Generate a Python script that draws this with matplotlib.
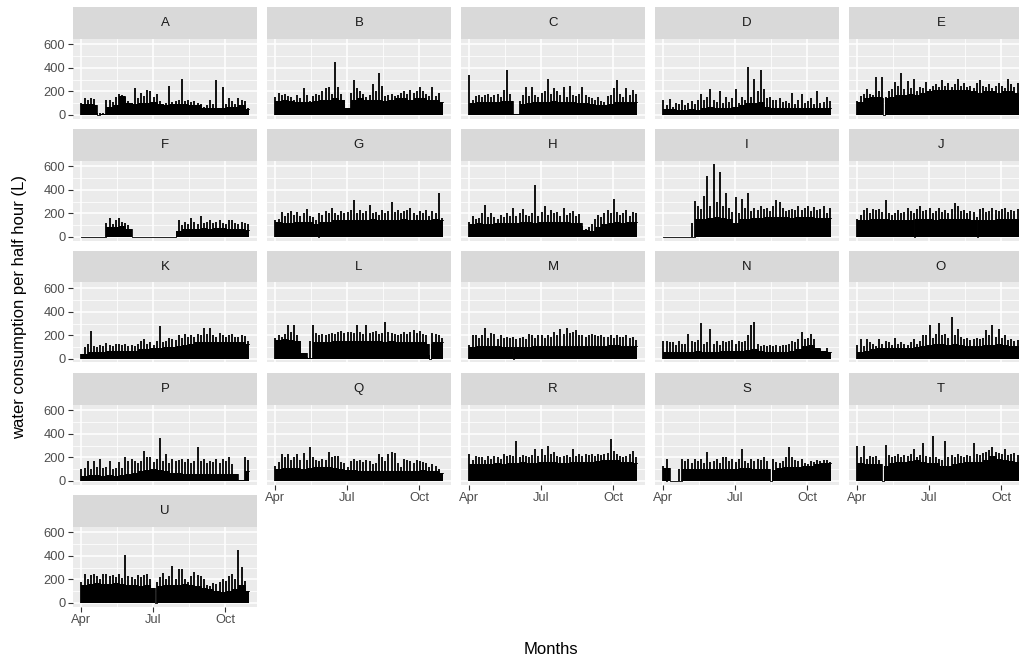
import numpy as np
import matplotlib.pyplot as plt

plt.rcParams['font.family'] = ['Liberation Sans', 'DejaVu Sans']

# water use per half hour (L)
# *_base: typical level, one value per 8 days from 1 Apr
# *_peak: highest reading, one value per 4 days from 1 Apr
# *_dips: days (from 1 Apr) where the use drops to zero
start = np.datetime64('2017-04-01')
end = np.datetime64('2017-10-31')

a_base = [90, 90, 80, 5, 70, 80, 160, 100, 90, 100, 100, 110, 90, 80, 90, 90, 90, 80, 80, 60, 60, 60, 60, 70, 70, 80, 50]
a_peak = [100, 145, 130, 140, 135, 20, 15, 20, 130, 130, 110, 150, 175, 170, 150, 120, 100, 230, 140, 190,
          160, 210, 200, 150, 180, 120, 90, 100, 250, 110, 120, 130, 310, 120, 130, 110, 115, 100, 90, 70,
          80, 130, 90, 300, 60, 240, 90, 140, 120, 90, 140, 130, 120, 60]
a_dips = [20, 22]

b_base = [120, 130, 120, 110, 110, 110, 120, 130, 130, 140, 130, 60, 130, 140, 130, 130, 130, 120, 130, 140, 140, 130, 140, 140, 130, 130, 110]
b_peak = [150, 190, 170, 175, 160, 150, 130, 170, 140, 230, 170, 120, 160, 180, 170, 200, 230, 240, 180, 450,
          240, 180, 130, 60, 190, 300, 230, 200, 180, 150, 170, 260, 200, 360, 250, 160, 170, 180, 160, 170,
          190, 200, 180, 210, 190, 200, 240, 200, 180, 160, 240, 160, 190, 90]
b_dips = []

c_base = [100, 110, 110, 110, 110, 120, 120, 5, 90, 100, 110, 110, 110, 120, 110, 110, 110, 100, 100, 90, 80, 80, 90, 110, 110, 110, 110]
c_peak = [340, 130, 160, 170, 150, 170, 180, 150, 170, 180, 150, 210, 380, 180, 10, 10, 120, 170, 235, 160,
          240, 170, 150, 190, 200, 310, 180, 230, 200, 170, 240, 150, 250, 170, 160, 180, 235, 170, 150, 140,
          130, 150, 120, 110, 160, 170, 230, 300, 180, 150, 230, 170, 210, 180]
c_dips = []

d_base = [50, 50, 45, 45, 50, 45, 55, 65, 60, 60, 60, 65, 80, 100, 100, 110, 70, 60, 60, 55, 55, 55, 60, 60, 55, 55, 60]
d_peak = [130, 80, 135, 70, 100, 90, 130, 80, 100, 120, 90, 130, 180, 130, 150, 220, 130, 110, 205, 100,
          150, 110, 140, 220, 100, 150, 130, 408, 150, 304, 200, 383, 220, 140, 150, 130, 130, 140, 110, 120,
          100, 190, 90, 130, 177, 100, 120, 140, 90, 205, 100, 110, 150, 120]
d_dips = []

e_base = [110, 140, 150, 150, 140, 150, 170, 170, 180, 170, 190, 200, 210, 210, 215, 210, 210, 210, 200, 190, 200, 200, 190, 200, 200, 190, 190]
e_peak = [120, 160, 180, 220, 180, 170, 327, 200, 327, 150, 200, 220, 277, 250, 353, 220, 285, 230, 307, 200,
          240, 230, 277, 220, 250, 260, 240, 300, 250, 270, 240, 260, 307, 250, 270, 240, 250, 230, 270, 297,
          250, 240, 260, 230, 250, 270, 250, 230, 307, 260, 240, 270, 220, 200]
e_dips = [33]

f_base = [0, 0, 0, 0, 80, 80, 90, 70, 0, 0, 0, 0, 0, 0, 0, 50, 70, 70, 70, 75, 70, 75, 75, 70, 70, 70, 60]
f_peak = [0, 0, 0, 0, 0, 0, 0, 0, 120, 165, 110, 140, 165, 130, 120, 100, 0, 0, 0, 0,
          0, 0, 0, 0, 0, 0, 0, 0, 0, 0, 0, 140, 100, 130, 110, 160, 130, 110, 175, 120,
          130, 140, 120, 130, 145, 120, 110, 140, 145, 120, 110, 130, 120, 110]
f_dips = []

g_base = [130, 120, 120, 130, 130, 125, 110, 130, 130, 140, 140, 140, 140, 145, 140, 150, 140, 140, 145, 145, 150, 140, 145, 140, 145, 150, 140]
g_peak = [145, 150, 210, 180, 200, 220, 190, 210, 180, 200, 235, 180, 170, 140, 200, 190, 220, 200, 250, 200,
          190, 220, 200, 210, 230, 315, 200, 230, 200, 220, 275, 200, 210, 190, 230, 200, 220, 300, 210, 230,
          200, 220, 230, 250, 200, 190, 220, 200, 230, 180, 222, 200, 370, 160]
g_dips = [54]

h_base = [110, 120, 110, 110, 120, 120, 120, 120, 130, 130, 120, 130, 130, 130, 130, 130, 120, 120, 60, 50, 80, 110, 120, 130, 120, 130, 130]
h_peak = [130, 175, 150, 160, 200, 270, 170, 200, 170, 150, 190, 170, 200, 180, 250, 180, 200, 235, 190, 180,
          200, 443, 180, 210, 265, 190, 230, 200, 210, 180, 250, 190, 200, 220, 180, 195, 90, 70, 80, 110,
          150, 190, 170, 200, 230, 200, 320, 210, 190, 200, 230, 180, 210, 200]
h_dips = []

i_base = [0, 0, 0, 0, 0, 150, 150, 160, 170, 160, 150, 120, 150, 150, 160, 160, 170, 170, 170, 170, 160, 170, 170, 170, 165, 165, 160]
i_peak = [0, 0, 0, 0, 0, 0, 0, 0, 0, 120, 305, 260, 240, 350, 517, 260, 623, 300, 550, 260,
          374, 250, 210, 337, 200, 323, 250, 371, 220, 250, 230, 260, 240, 250, 220, 260, 314, 300, 250, 220,
          230, 240, 230, 265, 230, 250, 265, 220, 255, 230, 240, 265, 200, 250]
i_dips = []

j_base = [140, 140, 150, 150, 150, 140, 140, 140, 140, 150, 150, 150, 140, 150, 150, 150, 150, 150, 140, 140, 140, 140, 150, 150, 150, 150, 150]
j_peak = [150, 190, 230, 250, 200, 240, 230, 240, 210, 314, 200, 190, 200, 230, 200, 210, 250, 220, 200, 240,
          260, 220, 230, 250, 200, 220, 250, 210, 230, 200, 240, 285, 260, 220, 230, 200, 220, 210, 170, 240,
          250, 210, 220, 250, 230, 220, 240, 250, 210, 230, 220, 240, 220, 200]
j_dips = [72, 152]

k_base = [40, 60, 55, 60, 65, 70, 70, 65, 70, 80, 85, 90, 95, 100, 105, 110, 120, 125, 140, 145, 140, 140, 140, 140, 140, 140, 130]
k_peak = [40, 100, 130, 234, 110, 100, 120, 110, 135, 120, 110, 125, 130, 120, 130, 110, 120, 110, 130, 150,
          166, 130, 140, 120, 150, 276, 140, 150, 180, 170, 160, 205, 180, 214, 190, 200, 190, 210, 200, 262,
          210, 262, 200, 190, 220, 200, 190, 200, 210, 190, 190, 200, 191, 150]
k_dips = []

l_base = [160, 170, 160, 150, 50, 10, 140, 140, 140, 150, 150, 150, 150, 150, 150, 150, 150, 145, 150, 145, 145, 140, 140, 140, 130, 140, 140]
l_peak = [180, 200, 190, 210, 285, 230, 285, 200, 150, 20, 20, 150, 290, 220, 200, 210, 200, 210, 220, 210,
          230, 240, 220, 228, 230, 220, 290, 230, 210, 290, 220, 230, 240, 210, 220, 318, 230, 220, 210, 200,
          210, 228, 210, 230, 248, 220, 240, 210, 200, 30, 220, 210, 200, 180]
l_dips = [196]

m_base = [100, 110, 110, 110, 110, 100, 100, 100, 100, 100, 110, 110, 110, 110, 110, 110, 110, 110, 110, 110, 110, 110, 115, 115, 110, 110, 110]
m_peak = [120, 200, 206, 180, 206, 262, 180, 220, 214, 170, 206, 180, 190, 180, 190, 170, 180, 190, 170, 214,
          200, 180, 200, 200, 180, 200, 190, 228, 200, 256, 210, 262, 220, 228, 242, 200, 206, 190, 200, 210,
          200, 195, 200, 190, 190, 200, 180, 200, 190, 190, 200, 180, 190, 160]
m_dips = [55]

n_base = [55, 60, 60, 60, 60, 65, 60, 60, 60, 65, 65, 70, 70, 75, 80, 70, 60, 60, 60, 60, 65, 80, 110, 120, 90, 65, 60]
n_peak = [150, 150, 140, 145, 120, 150, 130, 130, 214, 150, 140, 160, 307, 130, 140, 256, 130, 150, 120, 150,
          140, 150, 160, 130, 150, 140, 150, 200, 285, 318, 130, 110, 120, 110, 115, 110, 120, 110, 120, 115,
          130, 150, 140, 170, 228, 170, 180, 214, 170, 90, 80, 70, 90, 60]
n_dips = []

o_base = [60, 70, 80, 90, 90, 90, 90, 95, 95, 100, 110, 120, 130, 130, 120, 130, 120, 110, 110, 110, 115, 120, 130, 120, 110, 110, 110]
o_peak = [120, 166, 110, 166, 140, 130, 110, 170, 130, 150, 140, 120, 175, 130, 140, 125, 120, 140, 170, 130,
          150, 205, 200, 290, 180, 210, 307, 200, 215, 180, 355, 200, 256, 190, 170, 180, 160, 170, 180, 170,
          175, 248, 200, 285, 190, 256, 180, 200, 160, 170, 150, 160, 150, 140]
o_dips = []

p_base = [40, 50, 50, 45, 50, 45, 50, 60, 70, 80, 90, 100, 90, 80, 70, 70, 60, 60, 60, 60, 55, 60, 55, 60, 60, 5, 80]
p_peak = [100, 110, 172, 100, 172, 120, 186, 110, 120, 172, 100, 110, 160, 110, 200, 172, 186, 170, 150, 170,
          256, 200, 200, 160, 190, 363, 170, 228, 150, 186, 170, 180, 186, 160, 186, 150, 170, 290, 170, 186,
          150, 170, 160, 186, 150, 186, 170, 200, 140, 60, 5, 5, 205, 180]
p_dips = []

q_base = [100, 110, 110, 110, 100, 110, 120, 120, 120, 110, 100, 90, 90, 85, 80, 80, 80, 80, 85, 85, 80, 80, 85, 90, 85, 80, 70]
q_peak = [130, 158, 228, 200, 228, 180, 200, 228, 180, 234, 180, 290, 200, 180, 170, 190, 180, 242, 200, 210,
          214, 160, 150, 120, 170, 190, 170, 180, 160, 180, 170, 140, 150, 228, 200, 170, 228, 242, 240, 150,
          120, 190, 180, 170, 150, 180, 170, 160, 150, 120, 140, 130, 100, 60]
q_dips = []

r_base = [140, 140, 140, 145, 150, 145, 150, 150, 160, 155, 155, 160, 160, 160, 150, 155, 160, 160, 165, 165, 170, 175, 180, 175, 165, 160, 150]
r_peak = [228, 180, 214, 200, 205, 180, 210, 190, 214, 200, 190, 228, 210, 220, 214, 341, 200, 220, 210, 200,
          220, 270, 210, 270, 220, 298, 230, 242, 210, 200, 214, 220, 200, 270, 210, 228, 210, 228, 220, 230,
          210, 228, 220, 230, 240, 355, 256, 228, 214, 200, 210, 230, 256, 200]
r_dips = []

s_base = [110, 0, 0, 100, 100, 100, 100, 100, 100, 105, 105, 100, 110, 110, 105, 105, 100, 90, 110, 115, 120, 120, 125, 130, 140, 150, 150]
s_peak = [130, 186, 0, 0, 0, 100, 186, 170, 186, 150, 186, 170, 186, 150, 242, 160, 170, 186, 150, 200,
          200, 170, 186, 160, 186, 270, 170, 150, 186, 170, 186, 180, 200, 170, 0, 186, 160, 150, 170, 200,
          290, 200, 180, 170, 186, 150, 140, 170, 160, 180, 170, 180, 180, 160]
s_dips = [3, 136]

t_base = [150, 140, 140, 140, 130, 150, 160, 165, 170, 175, 160, 150, 150, 130, 130, 140, 150, 160, 160, 165, 175, 210, 190, 180, 170, 165, 160]
t_peak = [299, 200, 299, 190, 210, 200, 210, 180, 0, 304, 220, 200, 210, 230, 200, 220, 210, 230, 270, 200,
          220, 327, 210, 200, 383, 200, 190, 180, 341, 200, 220, 200, 230, 210, 200, 220, 210, 327, 230, 220,
          240, 250, 260, 285, 250, 240, 230, 270, 220, 230, 240, 220, 230, 200]
t_dips = [32]

u_base = [150, 160, 170, 160, 160, 170, 160, 150, 150, 140, 150, 130, 140, 150, 150, 150, 160, 150, 140, 130, 120, 100, 90, 100, 120, 150, 100]
u_peak = [177, 250, 200, 240, 250, 230, 200, 250, 250, 230, 240, 220, 250, 210, 411, 230, 220, 200, 240, 220,
          234, 250, 200, 20, 180, 220, 257, 200, 230, 314, 200, 291, 291, 200, 180, 230, 260, 234, 230, 200,
          154, 140, 170, 160, 180, 200, 190, 230, 250, 200, 449, 306, 190, 100]
u_dips = [94]

panels = {
    'A': (a_base, a_peak, a_dips), 'B': (b_base, b_peak, b_dips), 'C': (c_base, c_peak, c_dips),
    'D': (d_base, d_peak, d_dips), 'E': (e_base, e_peak, e_dips), 'F': (f_base, f_peak, f_dips),
    'G': (g_base, g_peak, g_dips), 'H': (h_base, h_peak, h_dips), 'I': (i_base, i_peak, i_dips),
    'J': (j_base, j_peak, j_dips), 'K': (k_base, k_peak, k_dips), 'L': (l_base, l_peak, l_dips),
    'M': (m_base, m_peak, m_dips), 'N': (n_base, n_peak, n_dips), 'O': (o_base, o_peak, o_dips),
    'P': (p_base, p_peak, p_dips), 'Q': (q_base, q_peak, q_dips), 'R': (r_base, r_peak, r_dips),
    'S': (s_base, s_peak, s_dips), 'T': (t_base, t_peak, t_dips), 'U': (u_base, u_peak, u_dips),
}

month_ticks = ['2017-04-01', '2017-07-01', '2017-10-01']
month_labels = ['Apr', 'Jul', 'Oct']

ndays = int((end - start).astype(int))
tick_days = [int((np.datetime64(m) - start).astype(int)) for m in month_ticks]
minor_days = [(tick_days[i] + tick_days[i + 1]) / 2 for i in range(len(tick_days) - 1)]
pad = ndays * 0.05

W, H = 1020, 660
fig = plt.figure(figsize=(W / 100, H / 100), dpi=100)
fig.patch.set_facecolor('white')

ncol = 5
for idx, (name, (base, peak, dips)) in enumerate(panels.items()):
    r, c = divmod(idx, ncol)
    left = 73 + 194 * c
    strip_top = 7 + 122 * r
    strip_h = 31.5
    ph = 80
    ax = fig.add_axes([left / W, 1 - (strip_top + strip_h + ph) / H, 184 / W, ph / H])
    sx = fig.add_axes([left / W, 1 - (strip_top + strip_h) / H, 184 / W, strip_h / H])
    sx.set_facecolor('#D9D9D9')
    sx.set_xticks([])
    sx.set_yticks([])
    for s in sx.spines.values():
        s.set_visible(False)
    sx.text(0.5, 0.5, name, ha='center', va='center', fontsize=9.5, color='#1A1A1A',
            transform=sx.transAxes)

    # daily level from the 8-day base values
    level = np.repeat(np.array(base, float), 8)[:ndays + 1]
    for d in dips:
        level[d:d + 2] = 0
    days = np.arange(len(level) + 1)
    level = np.append(level, level[-1])
    ax.fill_between(days, 0, level, step='post', color='black', lw=0)
    ax.step(days, level, where='post', color='black', lw=0.6)
    pdays = 4 * np.arange(len(peak))
    ax.vlines(pdays, 0, peak, color='black', lw=1.3)

    ax.set_facecolor('#EBEBEB')
    for s in ax.spines.values():
        s.set_visible(False)
    ax.set_xlim(-pad, ndays + pad)
    ax.set_ylim(-31, 651)
    ax.set_xticks(tick_days)
    ax.set_xticklabels(month_labels)
    ax.set_xticks(minor_days, minor=True)
    ax.set_yticks([0, 200, 400, 600])
    ax.set_yticks([100, 300, 500], minor=True)
    ax.grid(which='major', color='white', lw=1.1)
    ax.grid(which='minor', color='white', lw=0.55)
    ax.set_axisbelow(True)
    ax.tick_params(which='minor', length=0)
    ax.tick_params(which='major', length=3.5, width=0.8, color='#333333',
                   labelcolor='#4D4D4D', labelsize=9.3, pad=2)

    show_x = (r == 4) or (r == 3 and c >= 1)
    show_y = (c == 0)
    ax.tick_params(axis='x', bottom=show_x, labelbottom=show_x)
    ax.tick_params(axis='y', left=show_y, labelleft=show_y)

fig.text(551 / W, 1 - 649 / H, 'Months', ha='center', va='center', fontsize=12)
fig.text(20 / W, 1 - 307 / H, 'water consumption per half hour (L)', ha='center', va='center',
         rotation=90, fontsize=12)

fig.savefig('out.png', dpi=100)
